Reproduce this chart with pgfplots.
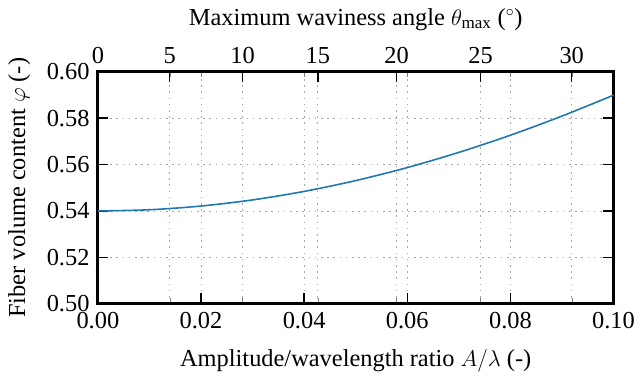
\documentclass[border=0pt]{standalone}
\usepackage{fontspec}
\setmainfont{Liberation Serif}
\usepackage{pgfplots}
\pgfplotsset{compat=1.18}
\definecolor{mplblue}{HTML}{1F77B4}
\begin{document}
\fontsize{18.5}{21}\selectfont
\begin{tikzpicture}
\pgfplotsset{
  common/.style={
    scale only axis, width=391pt, height=176pt,
    xmin=0, xmax=0.1, ymin=0.50, ymax=0.60,
    major tick length=8pt,
    tick style={black, line width=1.1pt},
    /pgf/number format/assume math mode=true,
    tick label style={font=\fontsize{18.5}{21}\selectfont},
    label style={font=\fontsize{18.5}{21}\selectfont},
  }
}
% grid only
\begin{axis}[
  scale only axis, width=391pt, height=176pt,
  xmin=0, xmax=0.1, ymin=0.50, ymax=0.60,
  axis line style={draw=none},
  xtick={0.013924,0.02,0.028063,0.04,0.042646,0.057928,0.06,0.074215,0.08,0.091888},
  ytick={0.52,0.54,0.56,0.58},
  xticklabels={}, yticklabels={},
  xmajorgrids, ymajorgrids,
  major grid style={gray!70, dash pattern=on 1.2pt off 3.5pt, line width=0.7pt},
]
\addplot[draw=none] coordinates {(0,0.5)};
\end{axis}
\begin{axis}[common,
  xtick pos=bottom, ytick pos=both,
  xtick={0,0.02,0.04,0.06,0.08,0.1},
  xticklabels={0.00,0.02,0.04,0.06,0.08,0.10},
  ytick={0.50,0.52,0.54,0.56,0.58,0.60},
  yticklabels={0.50,0.52,0.54,0.56,0.58,0.60},
  yticklabel pos=left,
  xlabel={Amplitude/wavelength ratio $A/\lambda$ (-)},
  ylabel={Fiber volume content $\varphi$ (-)},
  xlabel style={yshift=-3pt},
  axis line style={line width=2.3pt},
]
\addplot[mplblue, line width=1.2pt, smooth] coordinates {
(0.000,0.54000) (0.010,0.54053) (0.020,0.54213) (0.030,0.54477)
(0.040,0.54843) (0.050,0.55309) (0.060,0.55870) (0.070,0.56524)
(0.080,0.57264) (0.090,0.58088) (0.100,0.58989)
};
\end{axis}
\begin{axis}[common,
  axis x line*=top, axis y line=none,
  xtick pos=top, xticklabel pos=top,
  xtick={0,0.013924,0.028063,0.042646,0.057928,0.074215,0.091888},
  xticklabels={0,5,10,15,20,25,30},
  xlabel={Maximum waviness angle $\theta_{\mathrm{max}}$ ($^\circ$)},
  axis line style={line width=2.3pt},
]
\addplot[draw=none] coordinates {(0,0.5)};
\end{axis}
\end{tikzpicture}
\end{document}
